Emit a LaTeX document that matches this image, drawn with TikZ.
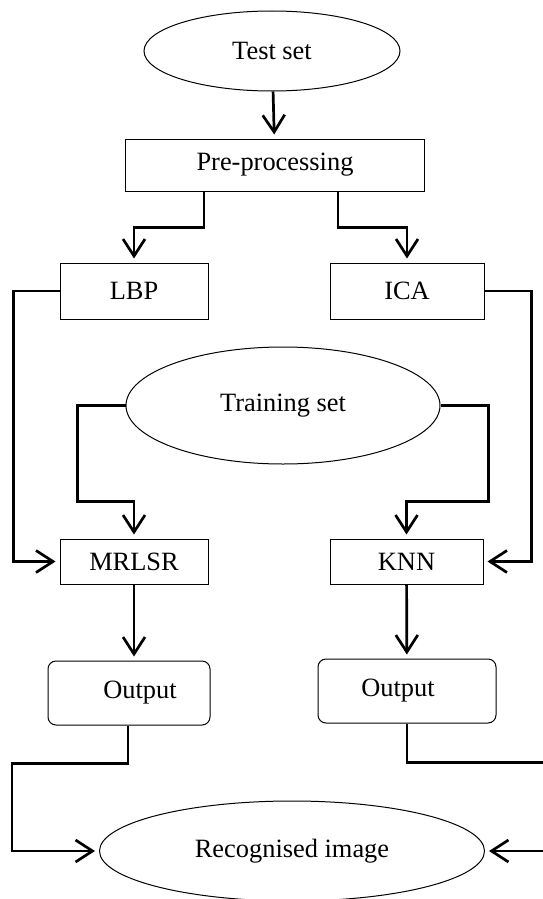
\documentclass[tikz,border=0pt]{standalone}
\usepackage{fontspec}
\setmainfont{Liberation Serif}
\usetikzlibrary{shapes.geometric,arrows.meta}

\begin{document}
\begin{tikzpicture}
  [x=1pt,y=-1pt,
   every node/.style={font=\fontsize{26.4}{30}\selectfont,inner sep=0pt},
   box/.style={draw,line width=1pt,minimum height=56pt},
   outbox/.style={draw,line width=1pt,rounded corners=8pt,minimum height=64pt},
   oval/.style={draw,ellipse,line width=1pt},
   conn/.style={line width=2.7pt,-{Straight Barb[length=17pt,width=22pt]},shorten >=4pt}]
  \useasboundingbox (0,0) rectangle (542,899);
  \node[oval,minimum width=256pt,minimum height=80pt] (test) at (272,51) {Test set};
  \node[box,minimum width=299pt,minimum height=52pt] (pre) at (275,165) {Pre-processing};
  \node[box,minimum width=148pt] (lbp) at (134,291) {LBP};
  \node[box,minimum width=154pt] (ica) at (407,291) {ICA};
  \node[oval,minimum width=314pt,minimum height=117pt] (train) at (283,405.5) {Training set};
  \node[box,minimum width=148pt,minimum height=45pt] (mrlsr) at (134,561.5) {MRLSR};
  \node[box,minimum width=153pt,minimum height=45pt] (knn) at (406.5,561.5) {KNN};
  \node[outbox,minimum width=162pt] (outL) at (129,693) {\hspace*{22pt}Output};
  \node[outbox,minimum width=178pt] (outR) at (407,691) {Output\hspace*{18pt}};
  \node[oval,minimum width=385pt,minimum height=100pt] (recog) at (292,851) {Recognised image};
  % test set down to the two features
  \draw[conn] (test) -- (pre);
  \draw[conn] ([xshift=-71pt]pre.south) -- ++(0,36) -| (lbp.north);
  \draw[conn] ([xshift=63pt]pre.south) -- ++(0,36) -| (ica.north);
  \draw[conn] (lbp.west) -- ++(-46,0) |- (mrlsr.west);
  \draw[conn] (ica.east) -- ++(47,0) |- (knn.east);
  % training set
  \draw[conn] (train.west) -- ++(-48,0) |- ([yshift=37pt]mrlsr.north) -- (mrlsr.north);
  \draw[conn] (train.east) -- ++(48,0) |- ([yshift=37pt]knn.north) -- (knn.north);
  \draw[conn] (mrlsr.south) -- (mrlsr.south |- outL.north);
  \draw[conn] (knn) -- (outR);
  % outputs to result
  \draw[conn] ([xshift=-1pt]outL.south) -- ++(0,38) -| ([xshift=-87pt]recog.west) -- (recog.west);
  \draw[conn] (outR.south) -- ++(0,39) -| ([xshift=62pt]recog.east) -- (recog.east);
\end{tikzpicture}
\end{document}
